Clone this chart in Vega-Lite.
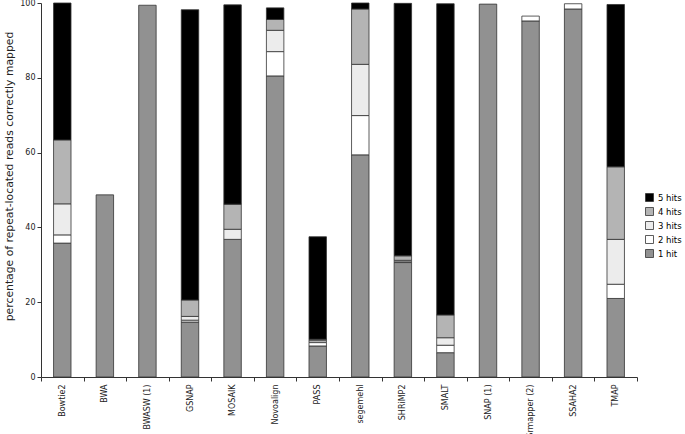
{
  "$schema": "https://vega.github.io/schema/vega-lite/v6.json",
  "autosize": "none",
  "width": 596,
  "height": 374,
  "padding": {"left": 41, "top": 3, "right": 48, "bottom": 57},
  "background": "white",
  "config": {
    "view": {"stroke": null},
    "font": "DejaVu Sans",
    "axis": {"labelFont": "DejaVu Sans", "titleFont": "DejaVu Sans", "domainColor": "#333333", "tickColor": "#333333", "labelColor": "#222222", "titleColor": "#222222", "grid": false}
  },
  "data": {
    "values": [
      {"tool": "Bowtie2", "hits": "1 hit", "rank": 1, "value": 35.8},
      {"tool": "Bowtie2", "hits": "2 hits", "rank": 2, "value": 2.2},
      {"tool": "Bowtie2", "hits": "3 hits", "rank": 3, "value": 8.3},
      {"tool": "Bowtie2", "hits": "4 hits", "rank": 4, "value": 17.1},
      {"tool": "Bowtie2", "hits": "5 hits", "rank": 5, "value": 36.6},
      {"tool": "BWA", "hits": "1 hit", "rank": 1, "value": 48.7},
      {"tool": "BWASW (1)", "hits": "1 hit", "rank": 1, "value": 99.4},
      {"tool": "GSNAP", "hits": "1 hit", "rank": 1, "value": 14.7},
      {"tool": "GSNAP", "hits": "2 hits", "rank": 2, "value": 0.5},
      {"tool": "GSNAP", "hits": "3 hits", "rank": 3, "value": 1.0},
      {"tool": "GSNAP", "hits": "4 hits", "rank": 4, "value": 4.4},
      {"tool": "GSNAP", "hits": "5 hits", "rank": 5, "value": 77.6},
      {"tool": "MOSAIK", "hits": "1 hit", "rank": 1, "value": 36.8},
      {"tool": "MOSAIK", "hits": "3 hits", "rank": 3, "value": 2.7},
      {"tool": "MOSAIK", "hits": "4 hits", "rank": 4, "value": 6.7},
      {"tool": "MOSAIK", "hits": "5 hits", "rank": 5, "value": 53.3},
      {"tool": "Novoalign", "hits": "1 hit", "rank": 1, "value": 80.5},
      {"tool": "Novoalign", "hits": "2 hits", "rank": 2, "value": 6.5},
      {"tool": "Novoalign", "hits": "3 hits", "rank": 3, "value": 5.7},
      {"tool": "Novoalign", "hits": "4 hits", "rank": 4, "value": 2.9},
      {"tool": "Novoalign", "hits": "5 hits", "rank": 5, "value": 3.1},
      {"tool": "PASS", "hits": "1 hit", "rank": 1, "value": 8.3},
      {"tool": "PASS", "hits": "2 hits", "rank": 2, "value": 0.9},
      {"tool": "PASS", "hits": "3 hits", "rank": 3, "value": 0.5},
      {"tool": "PASS", "hits": "4 hits", "rank": 4, "value": 0.4},
      {"tool": "PASS", "hits": "5 hits", "rank": 5, "value": 27.4},
      {"tool": "segemehl", "hits": "1 hit", "rank": 1, "value": 59.4},
      {"tool": "segemehl", "hits": "2 hits", "rank": 2, "value": 10.5},
      {"tool": "segemehl", "hits": "3 hits", "rank": 3, "value": 13.7},
      {"tool": "segemehl", "hits": "4 hits", "rank": 4, "value": 14.8},
      {"tool": "segemehl", "hits": "5 hits", "rank": 5, "value": 1.6},
      {"tool": "SHRiMP2", "hits": "1 hit", "rank": 1, "value": 30.6},
      {"tool": "SHRiMP2", "hits": "2 hits", "rank": 2, "value": 0.2},
      {"tool": "SHRiMP2", "hits": "3 hits", "rank": 3, "value": 0.4},
      {"tool": "SHRiMP2", "hits": "4 hits", "rank": 4, "value": 1.2},
      {"tool": "SHRiMP2", "hits": "5 hits", "rank": 5, "value": 67.5},
      {"tool": "SMALT", "hits": "1 hit", "rank": 1, "value": 6.5},
      {"tool": "SMALT", "hits": "2 hits", "rank": 2, "value": 2.0},
      {"tool": "SMALT", "hits": "3 hits", "rank": 3, "value": 2.0},
      {"tool": "SMALT", "hits": "4 hits", "rank": 4, "value": 6.1},
      {"tool": "SMALT", "hits": "5 hits", "rank": 5, "value": 83.2},
      {"tool": "SNAP (1)", "hits": "1 hit", "rank": 1, "value": 99.7},
      {"tool": "Srmapper (2)", "hits": "1 hit", "rank": 1, "value": 95.2},
      {"tool": "Srmapper (2)", "hits": "2 hits", "rank": 2, "value": 1.3},
      {"tool": "SSAHA2", "hits": "1 hit", "rank": 1, "value": 98.4},
      {"tool": "SSAHA2", "hits": "2 hits", "rank": 2, "value": 1.4},
      {"tool": "TMAP", "hits": "1 hit", "rank": 1, "value": 21.0},
      {"tool": "TMAP", "hits": "2 hits", "rank": 2, "value": 3.8},
      {"tool": "TMAP", "hits": "3 hits", "rank": 3, "value": 12.0},
      {"tool": "TMAP", "hits": "4 hits", "rank": 4, "value": 19.4},
      {"tool": "TMAP", "hits": "5 hits", "rank": 5, "value": 43.4}
    ]
  },
  "mark": {"type": "bar", "width": {"band": 0.41}, "stroke": "#333333", "strokeWidth": 0.8},
  "encoding": {
    "x": {
      "field": "tool", "type": "nominal", "sort": null,
      "scale": {"paddingInner": 0, "paddingOuter": 0},
      "axis": {"title": null, "labelAngle": 270, "labelFontSize": 8, "tickBand": "extent", "tickSize": 4, "labelPadding": 3, "domainWidth": 1}
    },
    "y": {
      "field": "value", "type": "quantitative", "stack": "zero",
      "scale": {"domain": [0, 100], "nice": false},
      "axis": {"title": "percentage of repeat-located reads correctly mapped", "values": [0, 20, 40, 60, 80, 100], "labelFontSize": 8, "titleFontSize": 10.8, "titleFontWeight": "normal", "tickSize": 4, "titlePadding": 5, "titleY": 173}
    },
    "order": {"field": "rank", "type": "quantitative", "sort": "ascending"},
    "color": {
      "field": "hits", "type": "nominal",
      "scale": {"domain": ["5 hits", "4 hits", "3 hits", "2 hits", "1 hit"], "range": ["#000000", "#b4b4b4", "#ececec", "#ffffff", "#919191"]},
      "legend": {"title": null, "orient": "none", "legendX": 604, "legendY": 190, "symbolType": "square", "symbolSize": 64, "symbolStrokeColor": "#333333", "symbolStrokeWidth": 0.8, "labelFontSize": 8.5, "rowPadding": 1, "labelOffset": 4}
    }
  }
}
